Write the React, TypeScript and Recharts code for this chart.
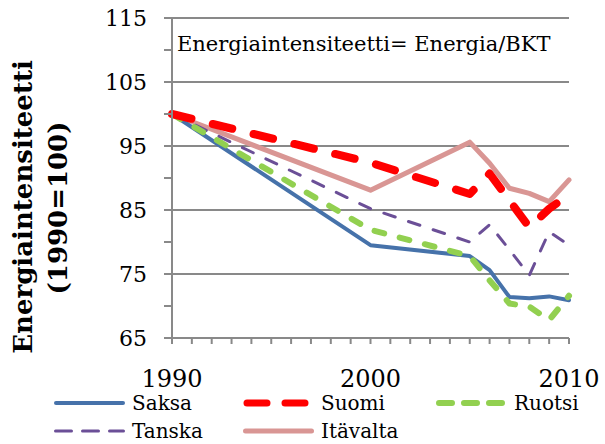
import React from 'react';
import { LineChart, Line, XAxis, YAxis, ReferenceLine, Legend, Customized } from 'recharts';

const years = [1990, 2000, 2005, 2006, 2007, 2008, 2009, 2010];
const saksa = [100, 79.5, 77.8, 75.6, 71.4, 71.2, 71.5, 70.9];
const suomi = [100, 92.4, 87.5, 90.7, 86.5, 82.3, 85.2, 87.4];
const ruotsi = [100, 81.9, 77.8, 74, 70.4, 69.9, 67.8, 71.6];
const tanska = [100, 85.2, 80, 82.7, 78.8, 74.8, 81.6, 79.5];
const itavalta = [100, 88.1, 95.6, 92.3, 88.4, 87.6, 86.3, 89.7];

const xTicks = Array.from({ length: 21 }, (_, i) => 1990 + i);
const xLabels = [1990, 2000, 2010];
const yTicks = [65, 70, 75, 80, 85, 90, 95, 100, 105, 110, 115];
const yLabels = [65, 75, 85, 95, 105, 115];
const gridValues = [75, 85, 95, 105, 115];

const data = years.map((year, i) => ({
  year,
  Saksa: saksa[i],
  Suomi: suomi[i],
  Ruotsi: ruotsi[i],
  Tanska: tanska[i],
  'Itävalta': itavalta[i],
}));

// drawing order: pink under the others, red on top
const series = [
  { key: 'Itävalta', color: '#d99694', width: 5, dash: undefined, legendDash: undefined },
  { key: 'Saksa', color: '#4672aa', width: 4, dash: undefined, legendDash: undefined },
  { key: 'Tanska', color: '#6b4f97', width: 3, dash: '12 14', legendDash: '16 11' },
  { key: 'Ruotsi', color: '#92d050', width: 6, dash: '10 16', legendDash: '13 12' },
  { key: 'Suomi', color: '#ff0000', width: 8, dash: '20 22', legendDash: '20 18' },
];
const legendOrder = ['Saksa', 'Suomi', 'Ruotsi', 'Tanska', 'Itävalta'];

const GRID = '#898989';
const FONT = 'DejaVu Serif';

const LegendContent = () => (
  <div
    style={{
      display: 'grid',
      gridTemplateColumns: '189px 193px 130px',
      fontFamily: FONT,
      fontSize: 20,
      lineHeight: '28px',
      color: '#000',
    }}
  >
    {legendOrder.map((k) => {
      const s = series.find((x) => x.key === k)!;
      const cap = s.width / 2;
      return (
        <div key={k} style={{ display: 'flex', alignItems: 'center' }}>
          <svg width={78} height={12} style={{ flex: 'none' }}>
            <line
              x1={cap}
              y1={6}
              x2={71 - cap}
              y2={6}
              stroke={s.color}
              strokeWidth={Math.min(s.width, 7)}
              strokeDasharray={s.legendDash}
              strokeLinecap="round"
            />
          </svg>
          <span>{k}</span>
        </div>
      );
    })}
  </div>
);

const Titles = () => (
  <g>
    <text x={177} y={51} fontFamily={FONT} fontSize={21} fill="#000">
      Energiaintensiteetti= Energia/BKT
    </text>
    <text
      x={23}
      y={207}
      transform="rotate(-90, 23, 207)"
      textAnchor="middle"
      dominantBaseline="central"
      fontFamily={FONT}
      fontWeight="bold"
      fontSize={26}
      fill="#000"
    >
      Energiaintensiteetti
    </text>
    <text
      x={58}
      y={208}
      transform="rotate(-90, 58, 208)"
      textAnchor="middle"
      dominantBaseline="central"
      fontFamily={FONT}
      fontWeight="bold"
      fontSize={26}
      fill="#000"
    >
      (1990=100)
    </text>
  </g>
);

export default function App() {
  return (
    <div style={{ position: 'absolute', left: 0, top: 0 }}>
      <LineChart width={605} height={444} data={data} margin={{ top: 18, right: 36, bottom: 0, left: 0 }}>
        {gridValues.map((v) => (
          <ReferenceLine key={v} y={v} stroke={GRID} strokeWidth={2} ifOverflow="extendDomain" />
        ))}
        <XAxis
          dataKey="year"
          type="number"
          domain={[1990, 2010]}
          ticks={xTicks}
          interval={0}
          height={106}
          tickSize={6}
          tickMargin={26}
          axisLine={{ stroke: GRID, strokeWidth: 2 }}
          tickLine={{ stroke: GRID, strokeWidth: 2 }}
          tickFormatter={(v: number) => (xLabels.includes(v) ? String(v) : '')}
          tick={{ fontFamily: FONT, fontSize: 24, fill: '#000' }}
        />
        <YAxis
          type="number"
          domain={[65, 115]}
          ticks={yTicks}
          interval={0}
          width={172}
          tickSize={8}
          tickMargin={17}
          axisLine={{ stroke: GRID, strokeWidth: 2 }}
          tickLine={{ stroke: GRID, strokeWidth: 2 }}
          tickFormatter={(v: number) => (yLabels.includes(v) ? String(v) : '')}
          tick={{ fontFamily: FONT, fontSize: 22, fill: '#000' }}
        />
        {series.map((s) => (
          <Line
            key={s.key}
            type="linear"
            dataKey={s.key}
            stroke={s.color}
            strokeWidth={s.width}
            strokeDasharray={s.dash}
            strokeLinecap="round"
            strokeLinejoin="round"
            dot={false}
            activeDot={false}
            isAnimationActive={false}
          />
        ))}
        <Legend
          layout="horizontal"
          align="center"
          verticalAlign="middle"
          wrapperStyle={{ top: 389, left: 54, width: 520 }}
          content={<LegendContent />}
        />
        <Customized component={<Titles />} />
      </LineChart>
    </div>
  );
}
